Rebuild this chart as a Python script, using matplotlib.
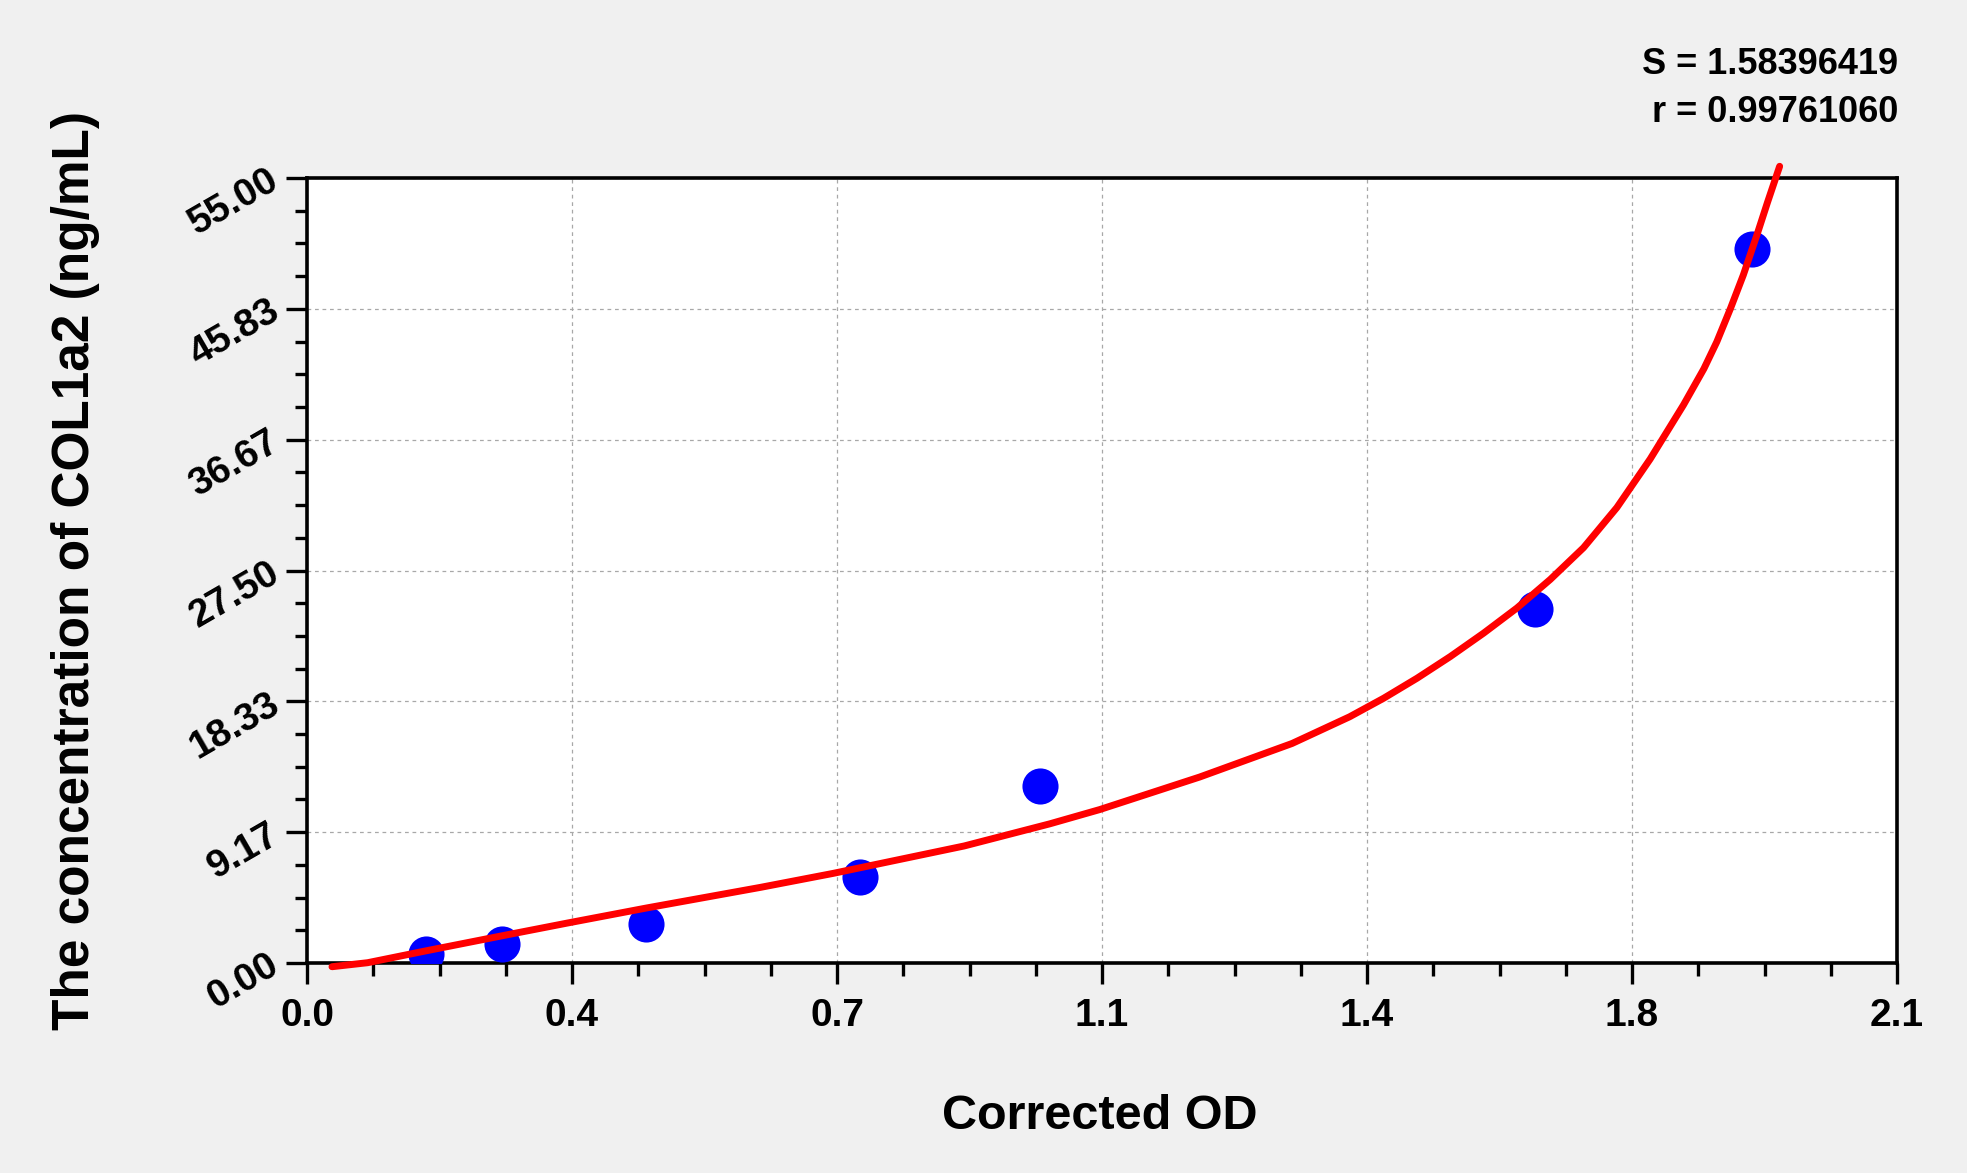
import matplotlib
matplotlib.use("Agg")
import matplotlib.pyplot as plt
from matplotlib.ticker import MultipleLocator

plt.rcParams['font.family'] = ['Liberation Sans', 'DejaVu Sans']
plt.rcParams['font.weight'] = 'bold'

# Standard points (Corrected OD vs concentration)
od_values = [0.157, 0.257, 0.448, 0.731, 0.968, 1.622, 1.909]
conc_values = [0.61, 1.31, 2.72, 6.00, 12.40, 24.83, 50.00]

# Fitted curve
curve_x = [0.033, 0.080, 0.157, 0.257, 0.344, 0.448, 0.599, 0.695, 0.868,
           0.981, 1.047, 1.179, 1.301, 1.377, 1.422, 1.466, 1.510, 1.554,
           1.598, 1.642, 1.686, 1.730, 1.774, 1.818, 1.845, 1.862, 1.880,
           1.897, 1.915, 1.929, 1.945]
curve_y = [-0.26, 0.02, 0.85, 1.90, 2.80, 3.85, 5.30, 6.28, 8.20,
           9.75, 10.75, 13.03, 15.38, 17.25, 18.55, 19.95, 21.47, 23.11,
           24.87, 26.87, 29.10, 31.91, 35.31, 39.10, 41.64, 43.52, 45.85,
           48.20, 51.01, 53.30, 55.82]

x_ticks = [0.0, 0.35, 0.70, 1.05, 1.40, 1.75, 2.10]
x_tick_labels = ["0.0", "0.4", "0.7", "1.1", "1.4", "1.8", "2.1"]
y_ticks = [0.0, 55/6, 2*55/6, 3*55/6, 4*55/6, 5*55/6, 55.0]
y_tick_labels = ["0.00", "9.17", "18.33", "27.50", "36.67", "45.83", "55.00"]

stat_s = "S = 1.58396419"
stat_r = "r = 0.99761060"

W, H = 1967, 1173
fig = plt.figure(figsize=(W/100, H/100), dpi=100, facecolor='#F0F0F0')
ax = fig.add_axes([307/W, 1-963/H, (1897-307)/W, (963-178)/H])
ax.set_facecolor('white')

ax.plot(od_values, conc_values, 'o', color='#0000FF', markersize=26,
        markeredgewidth=0, zorder=3)
ax.plot(curve_x, curve_y, '-', color='#FF0000', linewidth=5,
        solid_capstyle='round', solid_joinstyle='round', zorder=4,
        clip_on=False)

ax.set_xlim(0, 2.1)
ax.set_ylim(0, 55)
ax.set_xticks(x_ticks)
ax.set_xticklabels(x_tick_labels)
ax.set_yticks(y_ticks)
ax.set_yticklabels(y_tick_labels)
ax.xaxis.set_minor_locator(MultipleLocator(0.0875))
ax.yaxis.set_minor_locator(MultipleLocator(55/24))

ax.tick_params(axis='both', which='major', direction='out', length=15,
               width=2.4, color='black', labelsize=28)
ax.tick_params(axis='both', which='minor', direction='out', length=9,
               width=2.4, color='black')
ax.tick_params(axis='x', which='major', pad=10)
ax.tick_params(axis='y', which='major', pad=7)

for lab in ax.get_xticklabels():
    lab.set_fontweight('bold')
    lab.set_fontsize(28)
for lab in ax.get_yticklabels():
    lab.set_fontweight('bold')
    lab.set_fontsize(28)
    lab.set_rotation(30)
    lab.set_ha('right')
    lab.set_va('center')
    lab.set_rotation_mode('anchor')

for sp in ax.spines.values():
    sp.set_linewidth(2.6)
    sp.set_color('black')

ax.grid(True, which='major', linestyle=(0, (3, 3)), color='#A8A8A8',
        linewidth=0.9)
ax.set_axisbelow(True)

ax.set_xlabel("Corrected OD", fontsize=35, fontweight='bold')
ax.set_ylabel("The concentration of COL1a2 (ng/mL)", fontsize=37,
              fontweight='bold')
ax.xaxis.set_label_coords((1100-307)/(1897-307), -(1094-963)/(963-178))
ax.yaxis.set_label_coords(-(307-100)/(1897-307), (963-570)/(963-178))

fig.text(1898/W, 1-65/H, stat_s, ha='right', va='center', fontsize=26,
         fontweight='bold')
fig.text(1898/W, 1-112/H, stat_r, ha='right', va='center', fontsize=26,
         fontweight='bold')

fig.savefig("out.png", dpi=100, facecolor=fig.get_facecolor())
